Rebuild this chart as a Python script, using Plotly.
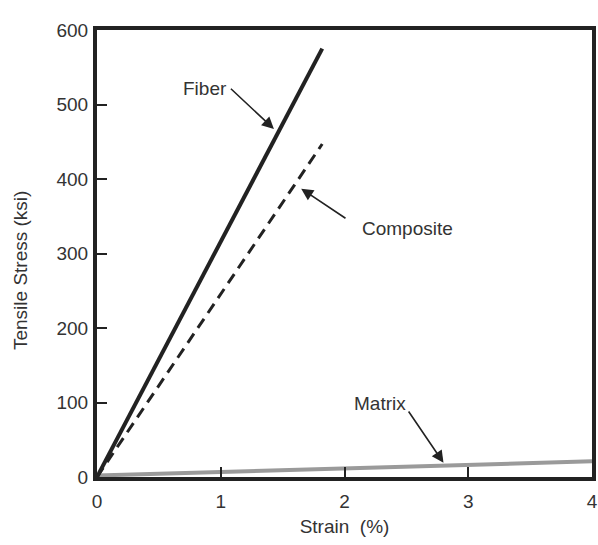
import plotly.graph_objects as go

# Data (strain %, stress ksi)
fiber_strain = [0, 1.82]
fiber_stress = [0, 575]
composite_strain = [0, 1.82]
composite_stress = [0, 447]
matrix_strain = [0, 4]
matrix_stress = [2, 21]

x_ticks = [0, 1, 2, 3, 4]
y_ticks = [0, 100, 200, 300, 400, 500, 600]

fig = go.Figure()
fig.add_trace(go.Scatter(x=matrix_strain, y=matrix_stress, mode="lines",
                         line=dict(color="#9a9a9a", width=4), showlegend=False))
fig.add_trace(go.Scatter(x=composite_strain, y=composite_stress, mode="lines",
                         line=dict(color="#222222", width=3, dash="11px,7px"), showlegend=False))
fig.add_trace(go.Scatter(x=fiber_strain, y=fiber_stress, mode="lines",
                         line=dict(color="#222222", width=4), showlegend=False))

font = dict(family="Liberation Sans, Arial, sans-serif", size=19, color="#333333")

# labels with arrows
labels = [
    dict(text="Fiber", tx=0.87, ty=522, hx=1.43, hy=467, ax=1.07, ay=523),
    dict(text="Composite", tx=2.51, ty=333, hx=1.65, hy=387, ax=2.02, ay=346),
    dict(text="Matrix", tx=2.29, ty=98, hx=2.80, hy=19, ax=2.51, ay=90),
]
for lb in labels:
    fig.add_annotation(x=lb["tx"], y=lb["ty"], text=lb["text"], showarrow=False,
                       font=font, xref="x", yref="y")
    fig.add_annotation(x=lb["hx"], y=lb["hy"], ax=lb["ax"], ay=lb["ay"],
                       axref="x", ayref="y", xref="x", yref="y", text="",
                       showarrow=True, arrowhead=2, arrowsize=1.5, arrowwidth=1.6,
                       arrowcolor="#222222")

# y-axis title (slightly below the axis centre, as in the reference)
fig.add_annotation(x=-0.1556, y=0.463, xref="paper", yref="paper",
                   text="Tensile Stress (ksi)", textangle=-90, showarrow=False,
                   font=font, xanchor="center", yanchor="middle")

fig.update_xaxes(range=[0, 4], tickvals=x_ticks, ticks="inside", ticklen=10,
                 tickwidth=2, tickcolor="#222222", showline=True, linewidth=4,
                 linecolor="#222222", mirror=True, showgrid=False, zeroline=False,
                 title=dict(text="Strain  (%)", font=font, standoff=10),
                 tickfont=font, automargin=False, ticklabelstandoff=4)
fig.update_yaxes(range=[0, 600], tickvals=y_ticks, ticks="inside", ticklen=10,
                 tickwidth=2, tickcolor="#222222", showline=True, linewidth=4,
                 linecolor="#222222", mirror=True, showgrid=False, zeroline=False,
                 tickfont=font, automargin=False, ticklabelstandoff=1)

fig.update_layout(width=598, height=545, plot_bgcolor="white", paper_bgcolor="white",
                  margin=dict(l=97, r=6, t=30, b=68), showlegend=False)

fig.write_html("out.html", config={"displayModeBar": False},
               post_script="document.body.style.margin='0';")
